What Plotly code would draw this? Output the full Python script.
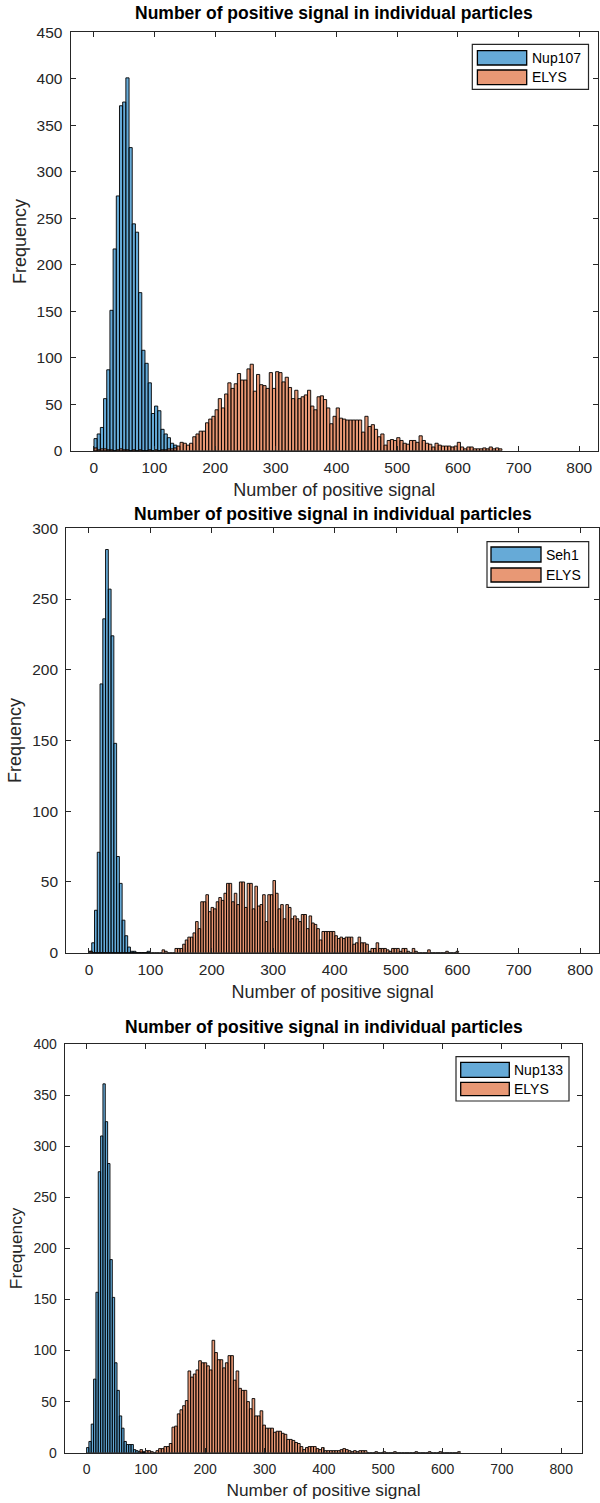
import plotly.graph_objects as go

W, H = 600, 1503

# ---------------- data (counts per bin) ----------------
# Panel 1
nup107_start, nup107_width = 0.5, 5.25
nup107_counts = [13, 18, 25, 56, 87, 151, 217, 274, 371, 375, 401, 326, 244, 235,
                 170, 108, 94, 73, 40, 48, 43, 23, 18, 14, 8, 6]
elys1_start, elys1_width = 0.5, 5.25
elys1_counts = [3, 1, 2, 2, 1, 1, 0, 1, 2, 1, 1, 0, 1, 0, 1, 0, 0, 1, 0, 1, 0, 1, 1, 2, 2, 3,
                5, 9, 8, 6, 8, 15, 18, 21, 21, 30, 34, 37, 44, 56, 46, 61, 73, 67, 72, 83,
                76, 76, 88, 93, 64, 82, 71, 70, 67, 84, 67, 85, 84, 74, 79, 68, 56, 65, 56, 58,
                60, 65, 48, 44, 58, 59, 55, 46, 29, 37, 46, 35, 34, 33, 33, 33, 33, 33, 20, 37,
                26, 28, 23, 15, 18, 6, 11, 12, 11, 14, 11, 8, 7, 11, 11, 9, 16, 11, 8, 7,
                4, 8, 6, 5, 5, 5, 4, 5, 9, 4, 2, 4, 4, 2, 2, 2, 3, 2, 4, 2, 3, 2]

# Panel 2
seh1_start, seh1_width = 0.0, 4.5
seh1_counts = [1, 7, 30, 71, 190, 236, 285, 257, 224, 148, 68, 49, 23, 12, 4, 1, 1,
               0, 0, 0, 0, 1]
elys2_start, elys2_width = 1.4, 4.2
elys2_counts = [1, 0, 0, 0, 0, 0, 0, 0, 0, 0, 0, 0, 0, 0, 0, 0, 0, 0, 0, 0, 0, 0, 0, 0,
                0, 0, 0, 0, 2, 1, 0, 0, 0,
                3, 3, 3, 6, 9, 11, 11, 14, 22, 17, 36, 36, 41, 29, 32, 31, 36, 39, 37, 42,
                49, 49, 36, 42, 34, 50, 50, 32, 49, 49, 31, 47, 33, 34, 41, 22, 41, 41, 51, 42,
                31, 34, 24, 34, 32, 24, 26, 24, 22, 27, 27, 17, 26, 21, 20, 17, 9, 15, 15, 15,
                15, 15, 12, 10, 11, 10, 11, 11, 11, 6, 7, 11, 7, 7, 6, 1, 3, 3, 7, 3,
                3, 3, 2, 1, 3, 3, 3, 1, 3, 3, 1, 0, 3, 1,
                0, 0, 0, 0, 2, 0, 0, 0, 0, 0, 0, 1, 0, 0, 0, 1]

# Panel 3
nup133_start, nup133_width = 0.0, 3.95
nup133_counts = [5, 11, 28, 72, 157, 275, 310, 361, 324, 283, 189, 152, 88, 61, 36, 24,
                 11, 8, 8, 8, 3, 2, 1, 1, 1]
elys3_start, elys3_width = 90.0, 4.5
elys3_counts = [3, 0, 2, 2, 1, 0,
                2, 4, 4, 6, 6, 9, 25, 26, 38, 42, 46, 51, 80, 74, 77, 81, 90, 88, 88, 85,
                81, 110, 98, 91, 91, 83, 88, 95, 95, 71, 80, 63, 61, 61, 50, 43, 53, 36, 36, 41,
                27, 24, 24, 24, 20, 21, 21, 19, 18, 13, 13, 12, 10, 9, 6, 3, 5, 6, 6, 6,
                4, 3, 5, 2, 2, 2, 2, 2, 2, 3, 4, 3, 2, 1, 2, 1, 2, 2, 2,
                0, 0, 0, 1, 0, 0, 1, 0, 0, 0, 1, 0, 0, 0, 0, 0, 0, 0, 1, 0, 0, 0, 0, 1,
                0, 0, 0, 1, 0, 0, 0, 0, 0, 0, 1]

panel_names = [("Nup107", "ELYS"), ("Seh1", "ELYS"), ("Nup133", "ELYS")]
title_text = "Number of positive signal in individual particles"
x_label = "Number of positive signal"
y_label = "Frequency"
x_ticks = [0, 100, 200, 300, 400, 500, 600, 700, 800]
y_tick_sets = [list(range(0, 451, 50)), list(range(0, 301, 50)), list(range(0, 401, 50))]

# ---------------- styling / layout (pixel geometry) ----------------
BLUE_FILL = "rgba(0,114,189,0.6)"
ORANGE_FILL = "rgba(217,83,25,0.6)"
BLUE_SOLID = "#66AAD7"
ORANGE_SOLID = "#E89875"
AX_COLOR = "#262626"
FONT = "Liberation Sans, Arial, Helvetica, sans-serif"

panels = [
    dict(x0=70.5, x1=598.0, y0=32.3, y1=450.7, xr=[-38.2, 830.8], yr=[0, 450],
         tick_fs=15.5, lab_fs=18, x_stand=8, y_stand=5,
         title_y=13, leg=dict(bx0=472.3, bx1=588.5, by0=44.3, by1=89.3, sx0=477.4, sx1=526.7,
                              r1=(50.7, 65.0), r2=(70.0, 84.7), tx=529.5)),
    dict(x0=66.2, x1=599.0, y0=528.3, y1=952.7, xr=[-37.1, 830.6], yr=[0, 300],
         tick_fs=15.5, lab_fs=18, x_stand=8, y_stand=5,
         title_y=514, leg=dict(bx0=487.0, bx1=588.7, by0=541.7, by1=587.3, sx0=491.0, sx1=541.0,
                               r1=(547.0, 562.0), r2=(568.0, 582.0), tx=544.0)),
    dict(x0=64.7, x1=582.3, y0=1044.0, y1=1452.7, xr=[-36.8, 835.5], yr=[0, 400],
         tick_fs=14, lab_fs=17.3, x_stand=8, y_stand=6,
         title_y=1027, leg=dict(bx0=456.0, bx1=569.0, by0=1056.7, by1=1101.0, sx0=460.7, sx1=509.3,
                                r1=(1062.3, 1077.3), r2=(1082.3, 1095.7), tx=511.5)),
]


def px_x(v):
    return v / W


def px_y(v):
    return 1 - v / H


def centers(start, width, counts):
    return [start + (i + 0.5) * width for i in range(len(counts))]


series = [
    ((nup107_start, nup107_width, nup107_counts), (elys1_start, elys1_width, elys1_counts)),
    ((seh1_start, seh1_width, seh1_counts), (elys2_start, elys2_width, elys2_counts)),
    ((nup133_start, nup133_width, nup133_counts), (elys3_start, elys3_width, elys3_counts)),
]

fig = go.Figure()
shapes = []
annotations = []
layout_axes = {}

for k, (p, (blue, orange), names) in enumerate(zip(panels, series, panel_names)):
    sfx = "" if k == 0 else str(k + 1)
    xa, ya = "x" + sfx, "y" + sfx
    for (st, wd, cnt), fill, nm in ((blue, BLUE_FILL, names[0]), (orange, ORANGE_FILL, names[1])):
        fig.add_trace(go.Bar(
            x=centers(st, wd, cnt), y=cnt, width=wd, name=nm,
            marker=dict(color=fill, line=dict(color="black", width=0.9)),
            xaxis=xa, yaxis=ya, showlegend=False,
        ))
    common = dict(showline=True, linecolor=AX_COLOR, linewidth=1, mirror="ticks",
                  ticks="inside", ticklen=5, tickwidth=1, tickcolor=AX_COLOR,
                  showgrid=False, zeroline=False, automargin=False,
                  tickfont=dict(family=FONT, size=p["tick_fs"], color=AX_COLOR))
    layout_axes["xaxis" + sfx] = dict(
        common, domain=[px_x(p["x0"]), px_x(p["x1"])], range=p["xr"],
        anchor=ya, tickvals=x_ticks, ticklabelstandoff=3,
        title=dict(text=x_label, font=dict(family=FONT, size=p["lab_fs"], color=AX_COLOR),
                   standoff=p["x_stand"]))
    layout_axes["yaxis" + sfx] = dict(
        common, domain=[px_y(p["y1"]), px_y(p["y0"])], range=p["yr"],
        anchor=xa, tickvals=y_tick_sets[k], ticklabelstandoff=4,
        title=dict(text=y_label, font=dict(family=FONT, size=p["lab_fs"], color=AX_COLOR),
                   standoff=p["y_stand"]))

    # panel title
    annotations.append(dict(
        text="<b>" + title_text + "</b>", xref="paper", yref="paper",
        x=px_x((p["x0"] + p["x1"]) / 2), y=px_y(p["title_y"]), xanchor="center", yanchor="middle",
        showarrow=False, font=dict(family=FONT, size=17.5, color="black")))

    # legend box (drawn)
    L = p["leg"]
    shapes.append(dict(type="rect", xref="paper", yref="paper",
                       x0=px_x(L["bx0"]), x1=px_x(L["bx1"]), y0=px_y(L["by1"]), y1=px_y(L["by0"]),
                       line=dict(color=AX_COLOR, width=1.2), fillcolor="white", layer="above"))
    for (r0, r1), col, nm in ((L["r1"], BLUE_SOLID, names[0]), (L["r2"], ORANGE_SOLID, names[1])):
        shapes.append(dict(type="rect", xref="paper", yref="paper",
                           x0=px_x(L["sx0"]), x1=px_x(L["sx1"]), y0=px_y(r1), y1=px_y(r0),
                           line=dict(color="black", width=1.3), fillcolor=col, layer="above"))
        annotations.append(dict(
            text=nm, xref="paper", yref="paper", x=px_x(L["tx"]), y=px_y((r0 + r1) / 2),
            xanchor="left", yanchor="middle", showarrow=False,
            font=dict(family=FONT, size=14, color="black")))

fig.update_layout(
    width=W, height=H, margin=dict(l=0, r=0, t=0, b=0, autoexpand=False),
    paper_bgcolor="white", plot_bgcolor="white",
    barmode="overlay", bargap=0,
    shapes=shapes, annotations=annotations,
    **layout_axes,
)

fig.write_html(
    "out.html",
    config={"displayModeBar": False, "staticPlot": True},
    post_script=(
        "document.documentElement.style.margin='0';document.body.style.margin='0';"
        "document.body.style.padding='0';document.documentElement.style.overflow='hidden';"
        "document.body.style.overflow='hidden';"
        "var gd=document.getElementById('{plot_id}');gd.style.position='fixed';"
        "gd.style.top='0px';gd.style.left='0px';"
    ),
)
